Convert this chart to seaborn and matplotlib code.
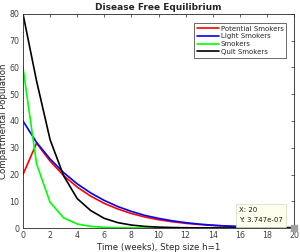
import matplotlib
matplotlib.use("Agg")
import matplotlib.pyplot as plt
import seaborn as sns
import pandas as pd

weeks = list(range(21))
potential = [20, 31.7, 25.0, 19.6, 15.3, 11.9, 9.2, 7.1, 5.4, 4.1, 3.1,
             2.35, 1.75, 1.3, 0.95, 0.7, 0.5, 0.35, 0.24, 0.16, 0.1]
light = [40, 32.0, 25.8, 20.7, 16.5, 13.1, 10.3, 8.0, 6.2, 4.7, 3.6,
         2.7, 2.0, 1.45, 1.05, 0.75, 0.52, 0.36, 0.24, 0.16, 0.1]
smokers = [60, 24, 9.6, 3.8, 1.5, 0.6, 0.24, 0.1, 0.04, 0.02, 0.01,
           0, 0, 0, 0, 0, 0, 0, 0, 0, 0]
quit = [80, 55, 33, 19.5, 11, 6.5, 3.6, 2.0, 1.1, 0.6, 0.33,
        0.18, 0.1, 0.05, 0.03, 0.02, 0.01, 0, 0, 0, 0]
names = ["Potential Smokers", "Light Smokers", "Smokers", "Quit Smokers"]
colors = ["#ff0000", "#0000ff", "#00ff00", "#000000"]

df = pd.DataFrame({"week": weeks * 4,
                   "value": potential + light + smokers + quit,
                   "group": sum([[n] * len(weeks) for n in names], [])})

sns.set_style("white")
plt.rcParams['font.family'] = ['DejaVu Sans']

fig = plt.figure(figsize=(3.0, 2.52), dpi=100)
ax = fig.add_axes([23 / 300, 1 - 228 / 252, 271 / 300, 214 / 252])
sns.lineplot(data=df, x="week", y="value", hue="group", hue_order=names,
             palette=colors, linewidth=1.2, ax=ax)

ax.set_xlim(0, 20)
ax.set_ylim(0, 80)
ax.set_xticks(range(0, 21, 2))
ax.set_yticks(range(0, 81, 10))
ax.tick_params(direction="in", length=2.5, width=0.5, labelsize=5.7,
               colors="#262626", top=True, right=True, pad=2.5)
ax.tick_params(axis="x", labelcolor="#404040")
ax.tick_params(axis="y", labelcolor="#404040")
for s in ax.spines.values():
    s.set_color("#262626")
    s.set_linewidth(0.6)

ax.set_title("Disease Free Equilibrium", fontsize=6.5, fontweight="bold", pad=3)
ax.set_xlabel("Time (weeks), Step size h=1", fontsize=6.2, color="#262626", labelpad=1.5)
ax.set_ylabel("Compartmental Population", fontsize=6.2, color="#262626", labelpad=1)

leg = ax.legend(loc="upper right", fontsize=5, frameon=True, fancybox=False,
                edgecolor="#262626", handlelength=3.2, handletextpad=0.3,
                borderpad=0.4, labelspacing=0.25, bbox_to_anchor=(0.985, 0.975))
leg.get_frame().set_linewidth(0.6)

# data tip at the last point
ax.plot([20], [0], marker="s", markersize=4.5, color="#a0a0a0", clip_on=False, zorder=5)
ax.text(15.95, 1.7, "X: 20\nY: 3.747e-07", fontsize=5.0, ha="left", va="bottom",
        linespacing=1.8, color="#1a1a1a",
        bbox=dict(boxstyle="square,pad=0.45", facecolor="#ffffee",
                  edgecolor="#d8d8c8", linewidth=0.5))

fig.savefig("out.png", dpi=100)
